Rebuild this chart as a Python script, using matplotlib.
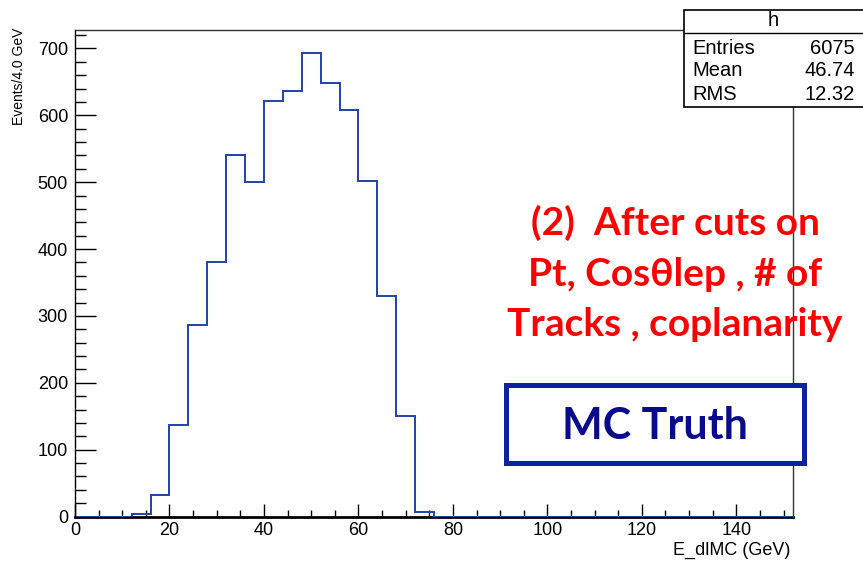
import numpy as np
import matplotlib
matplotlib.use("Agg")
from matplotlib import pyplot as plt
from matplotlib import ticker
from matplotlib.patches import Rectangle

plt.rcParams["font.family"] = ["Liberation Sans", "DejaVu Sans"]

# histogram h : 4 GeV bins from 0 to 152 GeV
bin_width = 4.0
x_min, x_max = 0.0, 152.0
counts = [0, 0, 0, 3, 32, 137, 286, 381, 540, 500, 621, 637, 693, 649,
          608, 502, 330, 150, 6, 0, 0, 0, 0, 0, 0, 0, 0, 0, 0, 0,
          0, 0, 0, 0, 0, 0, 0, 0]
stats_labels = ["Entries", "Mean", "RMS"]
stats_values = ["6075", "46.74", "12.32"]

edges = np.arange(x_min, x_max + bin_width / 2, bin_width)

fig = plt.figure(figsize=(8.63, 5.61), dpi=100)
W, H = 863.0, 561.0
ax = fig.add_axes([75 / W, 1 - 516.5 / H, (793 - 75) / W, (516.5 - 30) / H])

ax.stairs(counts, edges, color="#2142a8", linewidth=1.4, zorder=2)

ax.set_xlim(x_min, x_max)
ax.set_ylim(0, 1.05 * max(counts))

ax.xaxis.set_major_locator(ticker.MultipleLocator(20))
ax.xaxis.set_minor_locator(ticker.MultipleLocator(5))
ax.yaxis.set_major_locator(ticker.MultipleLocator(100))
ax.yaxis.set_minor_locator(ticker.MultipleLocator(20))

ax.tick_params(axis="both", which="both", direction="in", top=False, right=False,
               colors="black", labelsize=13)
ax.tick_params(axis="x", which="major", length=9.5, width=1.0, pad=4)
ax.tick_params(axis="x", which="minor", length=5, width=1.0)
ax.tick_params(axis="y", which="major", length=15, width=1.0, pad=5)
ax.tick_params(axis="y", which="minor", length=8, width=1.0)

for side in ["top", "right"]:
    ax.spines[side].set_linewidth(1.0)
    ax.spines[side].set_color("#333333")
ax.spines["left"].set_linewidth(1.0)
ax.spines["bottom"].set_linewidth(2.0)
ax.spines["bottom"].set_zorder(1)

# axis titles, ROOT style: right/top aligned
fig.text(790 / W, 1 - 550 / H, "E_dlMC (GeV)", ha="right", va="center", fontsize=13)
fig.text(19 / W, 1 - 28 / H, "Events/4.0 GeV", ha="center", va="top",
         rotation=90, fontsize=10)

# stats box
fig.patches.append(Rectangle((684 / W, 1 - 107 / H), (870 - 684) / W, (107 - 10) / H,
                             transform=fig.transFigure, facecolor="white",
                             edgecolor="black", linewidth=1.2, zorder=5))
fig.lines.append(plt.Line2D([684 / W, 1], [1 - 33 / H, 1 - 33 / H],
                            transform=fig.transFigure, color="black",
                            linewidth=1.0, zorder=6))
fig.text(773 / W, 1 - 21 / H, "h", ha="center", va="center", fontsize=14.5, zorder=7)
for i, (lab, val) in enumerate(zip(stats_labels, stats_values)):
    y = 1 - (48 + 23 * i) / H
    fig.text(692 / W, y, lab, ha="left", va="center", fontsize=14.5, zorder=7)
    fig.text(855 / W, y, val, ha="right", va="center", fontsize=14.5, zorder=7)

# annotation text
red_lines = ["(2)  After cuts on", "Pt, Cos\u03b8lep , # of", "Tracks , coplanarity"]
red_y = [223, 274, 324]
for line, y in zip(red_lines, red_y):
    fig.text(675 / W, 1 - y / H, line, ha="center", va="center",
             color="#ff0000", fontsize=28, fontweight="bold",
             family=["Lato", "DejaVu Sans"], zorder=8)

fig.patches.append(Rectangle((505.5 / W, 1 - 462.5 / H), (803.5 - 505.5) / W,
                             (462.5 - 384.5) / H, transform=fig.transFigure,
                             facecolor="white", edgecolor="#0c22a0",
                             linewidth=3.6, zorder=8))
fig.text(655 / W, 1 - 426 / H, "MC Truth", ha="center", va="center",
         color="#0a0a8c", fontsize=31, fontweight="bold",
         family=["Lato", "DejaVu Sans"], zorder=9)

fig.savefig("out.png", dpi=100)
